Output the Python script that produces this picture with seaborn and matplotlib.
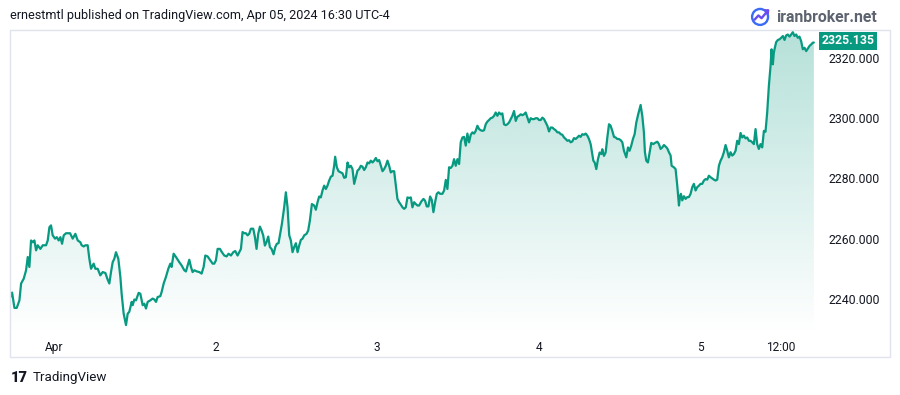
import numpy as np
import pandas as pd
import matplotlib.pyplot as plt
import seaborn as sns
from matplotlib.patches import Rectangle, Polygon, Circle

# XAUUSD, hours counted from Apr 1 00:00 (UTC-4)
hours_a = [-6.54, -6.29, -5.94, -5.60, -5.20, -4.95, -4.56, -4.21, -3.96, -3.72, -3.47, -3.22, -2.97, -2.72,
           -2.48, -2.08, -1.73, -1.24, -0.99, -0.74, -0.50, -0.25, 0.10, 0.35, 0.64, 0.89, 1.14, 1.39, 1.73,
           2.33, 2.72, 3.12, 3.47, 3.86, 4.06, 4.36, 4.61, 4.95, 5.20, 5.45, 5.84, 6.09, 6.44, 6.83, 7.18,
           7.58, 7.92, 8.17, 8.42, 8.67, 8.91, 9.16, 9.51, 9.81, 10.00, 10.30, 10.65, 10.90, 11.14, 11.49,
           11.64, 11.89, 12.13, 12.53, 12.78, 13.13, 13.37, 13.62, 13.87, 14.26, 14.61, 14.86, 15.11, 15.35,
           15.75, 15.95, 16.25, 16.59, 16.94, 17.24, 17.43, 17.73, 18.08, 18.57, 18.92, 19.32, 19.56, 19.81,
           20.06, 20.31, 20.55, 20.80, 21.20, 21.55, 21.89, 22.19, 22.44, 22.78, 23.18, 23.53, 23.77]
price_a = [2240.6, 2242.1, 2237.0, 2237.0, 2239.5, 2245.1, 2246.7, 2249.5, 2253.9, 2250.6, 2259.4, 2258.8,
           2259.4, 2256.1, 2257.8, 2256.6, 2257.8, 2257.8, 2259.4, 2263.8, 2264.4, 2261.1, 2260.0, 2260.5,
           2259.4, 2260.5, 2258.3, 2261.1, 2261.8, 2261.8, 2260.0, 2261.6, 2259.4, 2258.8, 2257.8, 2257.4,
           2257.8, 2257.8, 2253.3, 2250.0, 2251.7, 2250.0, 2250.0, 2247.8, 2248.9, 2248.6, 2246.4, 2245.1,
           2248.9, 2252.2, 2253.3, 2255.5, 2253.3, 2247.3, 2241.7, 2235.1, 2231.3, 2235.1, 2235.7, 2239.0,
           2237.9, 2239.8, 2239.5, 2242.0, 2241.7, 2237.9, 2238.4, 2236.8, 2239.0, 2239.5, 2240.1, 2239.8,
           2239.0, 2240.6, 2240.9, 2242.3, 2245.1, 2247.3, 2250.0, 2251.7, 2250.6, 2255.0, 2253.9, 2252.2,
           2251.1, 2249.5, 2249.1, 2251.1, 2253.0, 2250.6, 2248.9, 2249.5, 2249.1, 2248.9, 2248.4, 2250.6,
           2254.4, 2254.1, 2252.8, 2251.7, 2251.7]

hours_b = [24.02, 24.27, 24.61, 24.91, 25.26, 25.61, 25.90, 26.25, 26.60, 26.89, 27.24, 27.49, 27.74, 27.98,
           28.23, 28.48, 28.73, 28.97, 29.22, 29.57, 29.82, 30.06, 30.31, 30.56, 30.81, 31.05, 31.30, 31.55,
           31.80, 32.04, 32.29, 32.59, 32.84, 33.08, 33.33, 33.58, 33.83, 34.17, 34.42, 34.67, 34.92, 35.16,
           35.41, 35.66, 35.91, 36.16, 36.40, 36.65, 36.90, 37.15, 37.49, 37.74, 37.99, 38.29, 38.63, 38.88,
           39.13, 39.37, 39.62, 39.87, 40.12, 40.37, 40.61, 40.86, 41.11, 41.36, 41.60, 41.75, 42.00, 42.25,
           42.60, 42.84, 43.09, 43.34, 43.59, 43.83, 44.08, 44.33, 44.58, 44.82, 45.07, 45.32, 45.57, 45.81,
           46.06, 46.31, 46.56, 46.80, 47.05, 47.30, 47.55, 47.80, 48.04, 48.29, 48.54, 48.79, 49.03, 49.28,
           49.53, 49.78, 50.02, 50.27, 50.52, 50.77, 51.01, 51.26, 51.51, 51.76, 52.01, 52.25, 52.50, 52.75,
           53.00, 53.24, 53.49, 53.74, 53.99, 54.23]
price_b = [2252.8, 2256.6, 2256.6, 2255.5, 2254.4, 2254.1, 2255.0, 2254.4, 2255.5, 2255.9, 2254.4, 2255.5,
           2256.6, 2262.2, 2261.8, 2261.8, 2261.1, 2261.6, 2263.3, 2263.3, 2260.5, 2256.6, 2261.6, 2264.0,
           2262.7, 2261.1, 2257.7, 2258.9, 2260.7, 2257.2, 2256.6, 2254.8, 2257.2, 2258.3, 2258.5, 2261.6,
           2264.9, 2270.4, 2275.4, 2270.4, 2261.1, 2259.4, 2255.5, 2257.2, 2258.5, 2255.5, 2257.7, 2259.6,
           2260.0, 2261.1, 2261.6, 2262.7, 2266.0, 2271.5, 2271.0, 2269.6, 2272.1, 2274.0, 2273.7, 2276.0,
           2277.6, 2276.5, 2277.6, 2279.3, 2280.6, 2280.9, 2284.2, 2287.2, 2283.7, 2282.4, 2282.0, 2281.7,
           2280.2, 2280.4, 2285.3, 2283.7, 2284.2, 2283.1, 2278.2, 2280.4, 2282.6, 2283.1, 2284.2, 2283.9,
           2282.8, 2283.7, 2285.3, 2285.0, 2285.9, 2285.3, 2285.9, 2286.8, 2285.7, 2286.1, 2284.2, 2282.4,
           2283.1, 2284.2, 2285.9, 2284.2, 2282.0, 2282.4, 2282.4, 2277.6, 2273.2, 2272.1, 2271.3, 2270.4,
           2269.9, 2270.4, 2273.7, 2273.5, 2273.7, 2270.4, 2272.1, 2271.5, 2271.0, 2271.0]

hours_c = [54.58, 54.88, 55.12, 55.37, 55.62, 55.87, 56.11, 56.36, 56.61, 56.86, 57.11, 57.35, 57.70, 57.95,
           58.20, 58.44, 58.69, 58.94, 59.19, 59.43, 59.68, 59.93, 60.18, 60.42, 60.67, 60.92, 61.17, 61.41,
           61.66, 61.91, 62.16, 62.41, 62.65, 62.90, 63.15, 63.40, 63.64, 63.89, 64.14, 64.39, 64.63, 64.88,
           65.13, 65.38, 65.62, 65.87, 66.12, 66.37, 66.61, 66.86, 67.11, 67.36, 67.61, 67.85, 68.10, 68.35,
           68.60, 68.84, 69.09, 69.34, 69.59, 69.83, 70.08, 70.33, 70.58, 70.83, 71.07, 71.32, 71.57, 71.82,
           72.06, 72.31, 72.56, 72.81, 73.05, 73.30, 73.55, 73.80, 74.04, 74.29, 74.54, 74.79, 75.04, 75.28,
           75.53, 75.78, 76.03, 76.27, 76.52, 76.77, 77.02, 77.26, 77.51, 77.76, 78.01, 78.25, 78.50, 78.75,
           79.00, 79.25, 79.49, 79.74, 79.99, 80.14, 80.34, 80.58, 80.83, 81.08, 81.33, 81.47, 81.72, 81.97,
           82.22, 82.47, 82.71, 82.96, 83.21, 83.46, 83.70, 83.95, 84.20, 84.45, 84.69]
price_c = [2272.4, 2273.2, 2272.6, 2270.7, 2270.7, 2274.0, 2272.9, 2268.8, 2272.1, 2274.9, 2275.4, 2274.9,
           2274.9, 2276.0, 2279.5, 2276.5, 2283.7, 2283.5, 2284.2, 2286.4, 2284.2, 2286.4, 2284.8, 2292.0,
           2293.6, 2293.8, 2290.9, 2294.9, 2292.0, 2294.5, 2295.3, 2294.9, 2295.8, 2297.5, 2296.4, 2296.0,
           2295.8, 2296.0, 2298.0, 2298.9, 2299.4, 2300.0, 2300.2, 2300.8, 2301.9, 2300.8, 2301.9, 2301.3,
           2301.6, 2298.0, 2297.7, 2298.0, 2298.6, 2299.7, 2300.8, 2302.4, 2299.1, 2300.5, 2300.8, 2301.3,
           2301.0, 2301.3, 2301.9, 2300.2, 2298.6, 2300.0, 2299.7, 2299.7, 2300.0, 2300.0, 2299.4, 2299.4,
           2300.2, 2299.7, 2298.6, 2297.5, 2295.6, 2296.9, 2296.9, 2296.4, 2296.0, 2295.3, 2295.3, 2294.7,
           2294.5, 2293.6, 2293.1, 2292.5, 2292.7, 2292.0, 2292.3, 2293.4, 2293.1, 2293.6, 2294.2, 2293.8,
           2294.7, 2294.5, 2294.9, 2294.2, 2293.1, 2291.4, 2288.1, 2285.9, 2285.3, 2283.1, 2286.4, 2288.6,
           2288.1, 2289.7, 2287.5, 2288.6, 2293.6, 2298.0, 2297.5, 2295.8, 2293.8, 2293.6, 2293.1, 2293.1,
           2292.7, 2292.0, 2289.2]

hours_d = [85.04, 85.29, 85.53, 85.78, 86.03, 86.28, 86.53, 86.82, 87.17, 87.42, 87.66, 87.81, 88.01, 88.26,
           88.51, 88.75, 89.05, 89.30, 89.65, 89.89, 90.14, 90.39, 90.64, 90.88, 91.13, 91.38, 91.63, 91.78,
           92.12, 92.37, 92.62, 92.87, 93.01, 93.16, 93.36, 93.61, 93.86, 94.10, 94.35, 94.60, 94.85, 95.09,
           95.34, 95.59, 95.84, 96.08, 96.33, 96.58, 96.83, 97.08, 97.32, 97.57, 97.82, 98.07, 98.31, 98.56,
           98.81, 99.06, 99.30, 99.55, 99.80, 100.05, 100.29, 100.54, 100.79, 101.04, 101.29, 101.53, 101.78,
           102.03, 102.28, 102.52, 102.77, 103.02, 103.27, 103.51, 103.76, 104.01, 104.26, 104.50, 104.75,
           105.00, 105.25, 105.50, 105.74, 105.99, 106.24, 106.49, 106.64, 106.83, 106.98, 107.13, 107.33,
           107.58, 107.82, 108.07, 108.32, 108.57, 108.81, 109.06, 109.31, 109.56, 109.80, 110.05, 110.30,
           110.55, 110.79, 111.04, 111.29, 111.54, 111.79, 112.03, 112.28, 112.53, 112.78, 112.93]
price_d = [2287.0, 2290.3, 2289.2, 2290.9, 2293.1, 2294.7, 2298.6, 2301.4, 2304.4, 2300.8, 2295.3, 2288.7,
           2285.9, 2285.3, 2288.7, 2291.8, 2291.4, 2291.8, 2292.2, 2291.4, 2289.8, 2290.3, 2291.1, 2290.6,
           2290.0, 2288.7, 2287.6, 2284.2, 2283.7, 2283.1, 2277.6, 2271.0, 2273.8, 2274.9, 2272.7, 2274.1,
           2273.2, 2273.8, 2273.8, 2274.9, 2277.1, 2278.2, 2276.0, 2277.1, 2277.6, 2278.2, 2278.2, 2279.3,
           2279.8, 2279.6, 2280.9, 2280.4, 2280.0, 2279.6, 2279.3, 2279.6, 2284.2, 2285.9, 2287.0, 2288.7,
           2291.1, 2289.2, 2287.0, 2288.7, 2287.6, 2288.1, 2289.2, 2292.5, 2291.4, 2295.1, 2293.6, 2294.2,
           2293.3, 2293.6, 2292.5, 2292.5, 2292.0, 2291.4, 2296.4, 2291.4, 2289.8, 2291.4, 2290.3, 2295.8,
           2295.5, 2301.9, 2310.7, 2317.4, 2322.9, 2317.9, 2321.8, 2323.4, 2325.3, 2326.0, 2326.2, 2326.7,
           2327.3, 2326.0, 2327.5, 2327.8, 2327.1, 2327.8, 2328.6, 2327.3, 2327.8, 2326.7, 2327.1, 2325.6,
           2322.9, 2323.4, 2322.3, 2323.1, 2324.0, 2324.5, 2325.1, 2325.135]

time_ticks = [0, 24, 48, 72, 96, 108]
time_labels = ["Apr", "2", "3", "4", "5", "12:00"]
price_ticks = [2240, 2260, 2280, 2300, 2320]

df = pd.DataFrame({"hours": hours_a + hours_b + hours_c + hours_d,
                   "price": price_a + price_b + price_c + price_d})

teal = "#089981"
txt = "#131722"

sns.set_theme(style="white")
plt.rcParams['font.family'] = ['Roboto', 'DejaVu Sans']

fig = plt.figure(figsize=(9, 3.95), dpi=100)
W, H = 900, 395
ax = fig.add_axes([10 / W, 1 - 335 / H, 805 / W, 305 / H])

x0, x1 = -6.6, 113.1
y0, y1 = 2228.0, 2329.3
ax.set_xlim(x0, x1)
ax.set_ylim(y0, y1)

# gradient area under the line
verts = [(df.hours.iloc[0], y0)] + list(zip(df.hours, df.price)) + [(df.hours.iloc[-1], y0)]
area = Polygon(verts, closed=True, facecolor="none", edgecolor="none")
ax.add_patch(area)
grad = np.zeros((256, 1, 4))
grad[..., :3] = [8 / 255, 153 / 255, 129 / 255]
grad[..., 3] = np.linspace(0.0, 0.30, 256)[:, None]
im = ax.imshow(grad, extent=[x0, x1, y0, y1], origin="lower", aspect="auto", zorder=1)
im.set_clip_path(area)

sns.lineplot(data=df, x="hours", y="price", color=teal, linewidth=1.6, ax=ax, zorder=3)

for s in ax.spines.values():
    s.set_visible(False)
ax.set_xlabel("")
ax.set_ylabel("")
ax.set_xticks(time_ticks)
ax.set_xticklabels(time_labels)
ax.yaxis.tick_right()
ax.set_yticks(price_ticks)
ax.set_yticklabels([f"{v:.3f}" for v in price_ticks])
ax.tick_params(axis="y", length=0, pad=10, labelsize=8.8, labelcolor=txt)
ax.tick_params(axis="x", length=0, pad=4, labelsize=8.6, labelcolor=txt)
ax.grid(False)

# chart frame
fig.patches.append(Rectangle((10 / W, 1 - 357 / H), 880 / W, 327 / H, transform=fig.transFigure,
                             facecolor="none", edgecolor="#e0e3eb", linewidth=1))

# last price label
last = df.price.iloc[-1]
fig.canvas.draw()
yd = ax.transData.transform((0, last))[1]
yf = fig.transFigure.inverted().transform((0, yd))[1]
fig.text(848 / W, yf + 0.004, f"{last:.3f}", color="white", fontsize=8.8, fontweight="bold",
         ha="center", va="center",
         bbox=dict(boxstyle="square,pad=0.2", facecolor=teal, edgecolor="none"))

# header and watermarks
fig.text(10 / W, 1 - 15 / H, "ernestmtl published on TradingView.com, Apr 05, 2024 16:30 UTC-4",
         fontsize=9.1, color=txt, ha="left", va="center")
fig.text(776 / W, 1 - 17 / H, "iranbroker.net", fontsize=11.3, fontweight="bold", color="#5d6470",
         ha="left", va="center")
icon = fig.add_axes([750 / W, 1 - 27 / H, 21 / W, 21 / H])
icon.set_xlim(0, 1)
icon.set_ylim(0, 1)
icon.axis("off")
icon.add_patch(Circle((0.48, 0.48), 0.38, facecolor="none", edgecolor="#3b6cf6", linewidth=1.7))
icon.plot([0.22, 0.4, 0.55, 0.85], [0.35, 0.55, 0.42, 0.78], color="#6a4cf0", linewidth=1.7)
icon.plot([0.7, 0.87, 0.85], [0.8, 0.8, 0.62], color="#6a4cf0", linewidth=1.5)

fig.text(11 / W, 1 - 378 / H, "17", fontsize=10.5, fontweight="black", color=txt, ha="left", va="center")
fig.text(33 / W, 1 - 378 / H, "TradingView", fontsize=9.6, color=txt, ha="left", va="center")

fig.savefig("out.png", dpi=100, facecolor="white")
